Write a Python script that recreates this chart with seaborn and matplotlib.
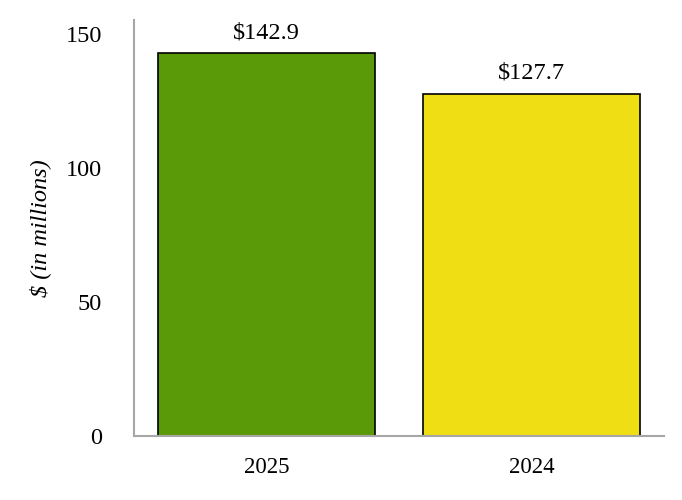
import matplotlib
matplotlib.use("Agg")
import matplotlib.pyplot as plt
import seaborn as sns
import pandas as pd

years = ["2025", "2024"]
values = [142.9, 127.7]
colors = ["#5A9A08", "#EFDE14"]
yticks = [0, 50, 100, 150]

sns.set_style("white")
plt.rcParams['font.family'] = ['Liberation Serif', 'DejaVu Serif']
plt.rcParams['text.color'] = 'black'
plt.rcParams['xtick.color'] = 'black'
plt.rcParams['ytick.color'] = 'black'
plt.rcParams['axes.labelcolor'] = 'black'

df = pd.DataFrame({"year": years, "value": values})
fig = plt.figure(figsize=(6.82, 5.0), dpi=100)
ax = fig.add_axes([134/682, 1-436/500, 530/682, 416/500])
sns.barplot(data=df, x="year", y="value", hue="year", palette=colors, legend=False,
            width=0.82, edgecolor="black", linewidth=1.2, saturation=1, ax=ax)
ax.set_xlim(-0.5, 1.5)
ax.set_ylim(0, 155.2)
ax.set_yticks(yticks)
ax.set_yticklabels([str(t) for t in yticks])
ax.tick_params(axis='y', length=0, labelsize=17.5, pad=23)
ax.tick_params(axis='x', length=0, labelsize=16.5, pad=15)
ax.set_xlabel("")
ax.set_ylabel("\\$ (in millions)", fontsize=17.5, style="italic", labelpad=10.5)
for s in ["top", "right"]:
    ax.spines[s].set_visible(False)
for s in ["left", "bottom"]:
    ax.spines[s].set_color("#A6A6A6")
    ax.spines[s].set_linewidth(1.5)
for i, v in enumerate(values):
    ax.annotate(f"${v:.1f}", (i, v), xytext=(0, 7), textcoords="offset points",
                ha="center", va="bottom", fontsize=17.5)
fig.savefig("out.png", dpi=100)
